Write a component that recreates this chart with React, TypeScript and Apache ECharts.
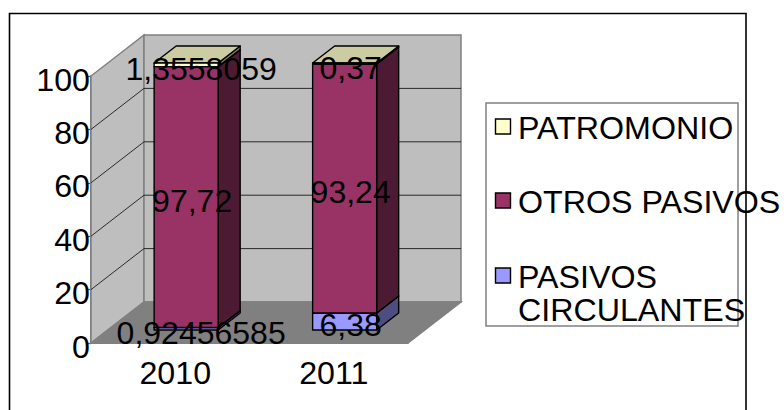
import React, { useEffect, useRef } from "react";
import * as echarts from "echarts";

const categories = ["2010", "2011"];
const seriesNames = ["PASIVOS CIRCULANTES", "OTROS PASIVOS", "PATROMONIO"];
const pasivosCirculantes = [0.92456585, 6.38];
const otrosPasivos = [97.72, 93.24];
const patromonio = [1.3558059, 0.37];
const yTicks = [0, 20, 40, 60, 80, 100];
const legendLines = [["PATROMONIO"], ["OTROS PASIVOS"], ["PASIVOS", "CIRCULANTES"]];

const stacks = [pasivosCirculantes, otrosPasivos, patromonio];
const frontColors = ["#9999FF", "#993366", "#FFFFCC"];
const sideColors = ["#4D4D80", "#4D1A33", "#808066"];
const topColors = ["#7A7ACC", "#7A2952", "#CCCCA3"];
const legendColors = ["#FFFFCC", "#993366", "#9999FF"];

const FONT = "'Liberation Sans', Arial, sans-serif";
const FONT_SIZE = 32.2;
const LABEL_SIZE = 32;
const DEPTH_X = 53;
const DEPTH_Y = 41;
const BAR_T = 0.3;
const BAR_DEPTH = 0.415;
const BAR_RATIO = 0.404;

function wallsItem(_params: any, api: any) {
  const band = api.size([1, 0])[0];
  const x0 = api.coord([0, 0])[0] - band / 2;
  const x1 = x0 + band * categories.length;
  const y0 = api.coord([0, 0])[1];
  const y100 = api.coord([0, 100])[1];
  const grey = "#808080";
  const poly = (points: number[][], fill: string) => ({
    type: "polygon",
    shape: { points },
    style: { fill, stroke: grey, lineWidth: 1.5 },
  });
  const children: any[] = [
    poly([[x0, y0], [x0 + DEPTH_X, y0 - DEPTH_Y], [x0 + DEPTH_X, y100 - DEPTH_Y], [x0, y100]], "#BEBEBE"),
    poly([[x0 + DEPTH_X, y0 - DEPTH_Y], [x1 + DEPTH_X, y0 - DEPTH_Y], [x1 + DEPTH_X, y100 - DEPTH_Y], [x0 + DEPTH_X, y100 - DEPTH_Y]], "#BEBEBE"),
    poly([[x0, y0], [x1, y0], [x1 + DEPTH_X, y0 - DEPTH_Y], [x0 + DEPTH_X, y0 - DEPTH_Y]], "#808080"),
  ];
  yTicks.slice(1, -1).forEach((v) => {
    const y = api.coord([0, v])[1];
    children.push({
      type: "polyline",
      shape: { points: [[x0, y], [x0 + DEPTH_X, y - DEPTH_Y], [x1 + DEPTH_X, y - DEPTH_Y]] },
      style: { fill: "none", stroke: "#1A1A1A", lineWidth: 0.9 },
    });
  });
  return { type: "group", children };
}

function barItem(s: number) {
  return (_params: any, api: any) => {
    const i = api.value(0);
    const val = api.value(1);
    const base = stacks.slice(0, s).reduce((sum, arr) => sum + arr[i], 0);
    const band = api.size([1, 0])[0];
    const w = band * BAR_RATIO;
    const shiftX = DEPTH_X * BAR_T;
    const shiftY = DEPTH_Y * 0.317;
    const dx = DEPTH_X * BAR_DEPTH;
    const dy = DEPTH_Y * BAR_DEPTH;
    const cx = api.coord([i, 0])[0] + shiftX;
    const l = cx - w / 2;
    const r = cx + w / 2;
    const b = api.coord([i, base])[1] - shiftY;
    const t = api.coord([i, base + val])[1] - shiftY;
    const edge = { stroke: "#000000", lineWidth: 1.4, lineJoin: "round" };
    return {
      type: "group",
      children: [
        { type: "polygon", shape: { points: [[r, b], [r + dx, b - dy], [r + dx, t - dy], [r, t]] }, style: { fill: sideColors[s], ...edge } },
        { type: "polygon", shape: { points: [[l, t], [r, t], [r + dx, t - dy], [l + dx, t - dy]] }, style: { fill: topColors[s], ...edge } },
        { type: "polygon", shape: { points: [[l, b], [r, b], [r, t], [l, t]] }, style: { fill: frontColors[s], ...edge } },
      ],
    };
  };
}

function labelItem(s: number) {
  return (_params: any, api: any) => {
    const i = api.value(0);
    const val = stacks[s][i];
    const base = stacks.slice(0, s).reduce((sum, arr) => sum + arr[i], 0);
    const text = String(val).replace(".", ",");
    const cx = api.coord([i, 0])[0] + DEPTH_X * BAR_T + (text.length > 6 ? 15 : 6);
    const cy = (api.coord([i, base])[1] + api.coord([i, base + val])[1]) / 2 - DEPTH_Y * 0.317 + 4;
    return {
      type: "text",
      style: { text, x: cx, y: cy, fill: "#000000", font: `${LABEL_SIZE}px ${FONT}`, align: "center", verticalAlign: "middle" },
    };
  };
}

export default function App() {
  const ref = useRef<HTMLDivElement>(null);
  useEffect(() => {
    if (!ref.current) return;
    const chart = echarts.init(ref.current, undefined, { renderer: "svg" });
    const legendTops = [119, 193, 268];
    const legendGraphics: any[] = [
      {
        type: "rect",
        z: 20,
        shape: { x: 486, y: 103, width: 252, height: 223 },
        style: { fill: "#FFFFFF", stroke: "#808080", lineWidth: 1.5 },
      },
    ];
    legendLines.forEach((lines, k) => {
      legendGraphics.push({
        type: "rect",
        z: 21,
        shape: { x: 495.5, y: legendTops[k], width: 15, height: 15 },
        style: { fill: legendColors[k], stroke: "#000000", lineWidth: 1.4 },
      });
      lines.forEach((line, n) => {
        legendGraphics.push({
          type: "text",
          z: 22,
          x: 518,
          y: legendTops[k] + 9 + n * 33,
          style: { text: line, fill: "#000000", font: `${FONT_SIZE}px ${FONT}`, align: "left", verticalAlign: "middle" },
        });
      });
    });
    const barSeries: any[] = seriesNames.map((name, s) => ({
      type: "custom",
      name,
      z: 3,
      renderItem: barItem(s),
      encode: { x: 0, y: 1 },
      data: stacks[s].map((v, i) => [i, v]),
    }));
    const labelSeries: any[] = seriesNames.map((name, s) => ({
      type: "custom",
      name: name + " labels",
      z: 5,
      renderItem: labelItem(s),
      encode: { x: 0, y: 1 },
      data: stacks[s].map((v, i) => [i, v]),
    }));
    chart.setOption({
      animation: false,
      backgroundColor: "#FFFFFF",
      grid: { left: 91, top: 76, width: 317, height: 267, containLabel: false },
      xAxis: {
        type: "category",
        data: categories,
        axisLine: { lineStyle: { color: "#555555", width: 1.5 } },
        axisTick: { length: 5, lineStyle: { color: "#555555", width: 1.2 } },
        axisLabel: {
          color: "#000000",
          margin: 14,
          formatter: "{a|{value}}",
          rich: { a: { fontFamily: FONT, fontSize: FONT_SIZE, color: "#000000", padding: [0, 0, 0, 10] } },
        },
      },
      yAxis: {
        type: "value",
        min: 0,
        max: 100,
        interval: 20,
        splitLine: { show: false },
        axisLine: { show: true, lineStyle: { color: "#555555", width: 1.5 } },
        axisTick: { show: true, length: 4, lineStyle: { color: "#555555", width: 1.2 } },
        axisLabel: {
          color: "#000000",
          margin: 1,
          formatter: "{a|{value}}",
          rich: { a: { fontFamily: FONT, fontSize: FONT_SIZE, color: "#000000", padding: [7, 0, 0, 0] } },
        },
      },
      graphic: [
        {
          type: "polyline",
          z: 1,
          shape: { points: [[9.5, 410], [9.5, 13.5], [746, 13.5], [746, 410]] },
          style: { fill: "none", stroke: "#000000", lineWidth: 1.6 },
        },
        ...legendGraphics,
      ],
      series: [
        { type: "custom", name: "walls", z: 1, renderItem: wallsItem, encode: { x: 0, y: 1 }, data: [[0, 0]], silent: true },
        ...barSeries,
        ...labelSeries,
      ],
    });
    return () => chart.dispose();
  }, []);
  return <div ref={ref} style={{ position: "absolute", left: 0, top: 0, width: 784, height: 410 }} />;
}
